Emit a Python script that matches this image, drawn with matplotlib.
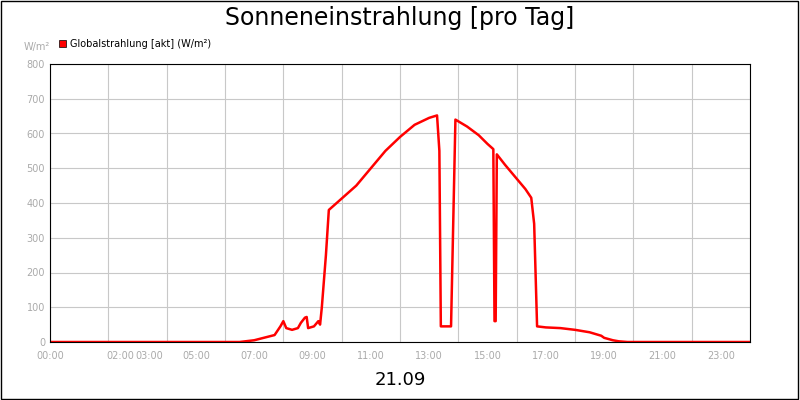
import matplotlib
matplotlib.use("Agg")
import matplotlib.pyplot as plt
from matplotlib.patches import Rectangle

hours = [0, 6.5, 7.0, 7.7, 7.9, 8.0, 8.1, 8.3, 8.5, 8.6, 8.74, 8.8, 8.85, 9.05, 9.2, 9.26, 9.32, 9.46, 9.56,
         10.5, 11.0, 11.5, 12.0, 12.5, 13.0, 13.27, 13.35, 13.4, 13.75, 13.9, 14.3, 14.7, 15.0, 15.2, 15.24,
         15.28, 15.32, 15.6, 16.0, 16.3, 16.5, 16.6, 16.7, 17.0, 17.5, 17.8, 18.0, 18.5, 18.9, 19.0, 19.3,
         19.5, 19.8, 24]
values = [0, 0, 5, 20, 45, 60, 40, 35, 40, 55, 70, 72, 40, 45, 60, 50, 100, 250, 380,
          450, 500, 550, 590, 625, 645, 652, 550, 45, 45, 640, 620, 595, 570, 555, 60,
          60, 540, 510, 470, 440, 415, 340, 45, 42, 40, 37, 35, 28, 18, 12, 5,
          2, 0, 0]
tick_hours = [0, 2, 3, 5, 7, 9, 11, 13, 15, 17, 19, 21, 23]
tick_labels = ["00:00", "02:00", "03:00", "05:00", "07:00", "09:00", "11:00", "13:00",
               "15:00", "17:00", "19:00", "21:00", "23:00"]

fig = plt.figure(figsize=(8, 4), dpi=100)
ax = fig.add_axes([50/800, 58/400, 700/800, 278/400])
ax.plot(hours, values, color="#ff0000", lw=1.8)
ax.set_xlim(0, 24)
ax.set_ylim(0, 800)
ax.set_yticks(range(0, 801, 100))
ax.set_xticks(range(0, 25, 2))
ax.set_xticklabels([])
for h, l in zip(tick_hours, tick_labels):
    ax.text(h + (0.4 if h in (2, 3) else 0), -25, l, ha="center", va="top", fontsize=7, color="#aaaaaa")
ax.tick_params(axis="y", labelsize=7, colors="#aaaaaa", length=0)
ax.tick_params(axis="x", length=0)
ax.grid(True, color="#c8c8c8", lw=0.8)
for s in ax.spines.values():
    s.set_color("black"); s.set_linewidth(0.8)
fig.text(0.5, 0.955, "Sonneneinstrahlung [pro Tag]", ha="center", va="center", fontsize=17)
fig.text(24/800, 1-47/400, "W/m²", fontsize=7, color="#aaaaaa", va="center")
fig.patches.append(Rectangle((59/800, 1-47/400), 7/800, 7/400, transform=fig.transFigure,
                             facecolor="red", edgecolor="black", lw=0.5))
fig.text(70/800, 1-44/400, "Globalstrahlung [akt] (W/m²)", fontsize=7, va="center")
fig.text(0.5, 1-380/400, "21.09", ha="center", va="center", fontsize=13)
fig.patches.append(Rectangle((0.001, 0.002), 0.997, 0.996, transform=fig.transFigure,
                             fill=False, edgecolor="black", lw=1))
fig.savefig("out.png", dpi=100)
